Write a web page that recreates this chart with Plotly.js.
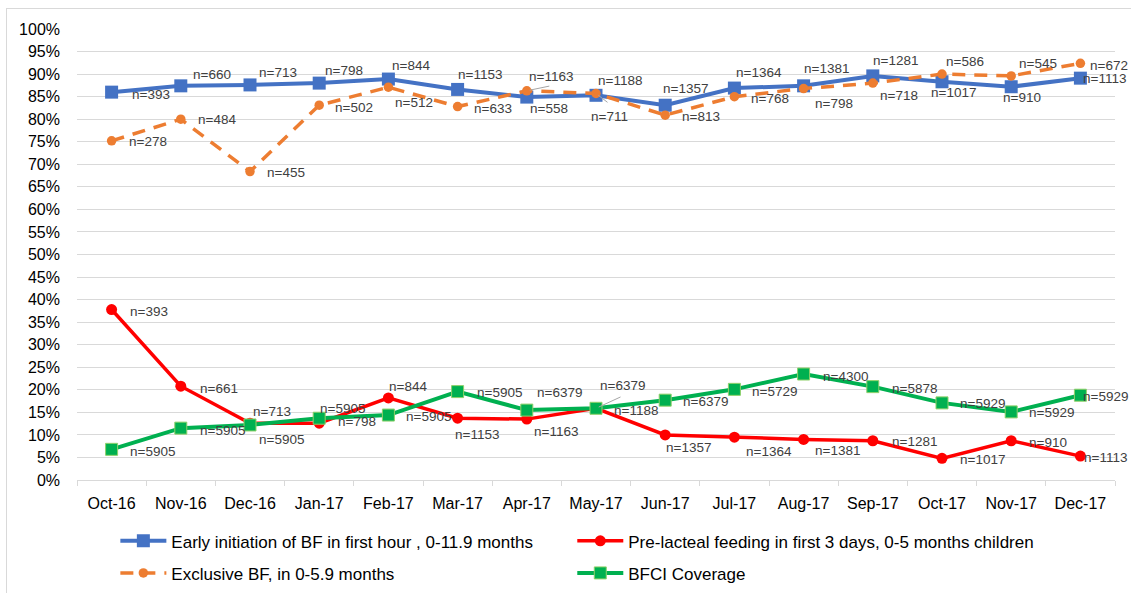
<!DOCTYPE html>
<html>
<head>
<meta charset="utf-8">
<script src="https://cdn.plot.ly/plotly-3.0.1.min.js"></script>
<style>
  html, body { margin: 0; padding: 0; background: #fff; }
  #wrap { position: relative; width: 1131px; height: 593px; }
  #chart { width: 1131px; height: 593px; }
  #frame { position: absolute; left: 6px; top: 8px; width: 1125px; height: 585px;
           border-left: 1px solid #d9d9d9; border-top: 1px solid #d9d9d9; pointer-events: none; }
</style>
</head>
<body>
<div id="wrap"><div id="chart"></div><div id="frame"></div></div>
<script>
// ---- data ----
const months = ["Oct-16","Nov-16","Dec-16","Jan-17","Feb-17","Mar-17","Apr-17","May-17","Jun-17","Jul-17","Aug-17","Sep-17","Oct-17","Nov-17","Dec-17"];

const earlyName = "Early initiation of BF in first hour , 0-11.9 months";
const earlyVals = [0.860,0.874,0.876,0.880,0.889,0.866,0.849,0.853,0.831,0.869,0.874,0.896,0.883,0.872,0.891];
const earlyN    = [393,660,713,798,844,1153,558,1188,1357,1364,1381,1281,1017,910,1113];

const preName = "Pre-lacteal feeding in first 3 days, 0-5 months children";
const preVals = [0.378,0.208,0.126,0.126,0.182,0.137,0.135,0.159,0.100,0.095,0.090,0.087,0.048,0.087,0.053];
const preN    = [393,661,713,798,844,1153,1163,1188,1357,1364,1381,1281,1017,910,1113];

const exclName = "Exclusive BF, in 0-5.9 months";
const exclVals = [0.752,0.800,0.684,0.831,0.871,0.828,0.863,0.857,0.809,0.850,0.868,0.880,0.900,0.896,0.924];
const exclN    = [278,484,455,502,512,633,1163,711,813,768,798,718,586,545,672];

const bfciName = "BFCI Coverage";
const bfciVals = [0.068,0.115,0.122,0.137,0.144,0.196,0.155,0.159,0.177,0.201,0.235,0.207,0.171,0.151,0.188];
const bfciN    = [5905,5905,5905,5905,5905,5905,6379,6379,6379,5729,4300,5878,5929,5929,5929];

// ---- label placement (pixel offsets from each point: [right, down]) ----
const earlyOff = [[19,2],[11,-11],[8,-12],[5,-13],[3,-14],[-1,-15],[2,11],[1,-15],[-3,-17],[1,-16],[-1,-17],[-1,-15],[-12,11],[-9,11],[2,0]];
const exclOff  = [[16,1],[16,0],[16,1],[15,2],[6,15],[15,2],[1,-14],[-6,23],[16,1],[16,2],[10,15],[6,12],[3,-13],[7,-12],[9,2]];
const preOff   = [[17,2],[18,2],[2,-12],[18,-2],[0,-11],[-4,16],[6,12],[17,2],[0,13],[11,14],[10,11],[18,1],[17,1],[17,2],[3,1]];
const bfciOff  = [[17,2],[18,2],[8,15],[0,-10],[17,1],[18,1],[9,-18],[3,-23],[17,1],[17,2],[18,2],[18,2],[17,1],[17,1],[2,1]];
// leader lines: [series values, index, dx, dy]
const leaders = [[exclVals,6,24,-5],[exclVals,7,13,10],[bfciVals,7,26,-12]];

const labelFont = {family: "Liberation Sans, Arial, sans-serif", size: 13.5, color: "#404040"};

const traces = [
  {x: months, y: earlyVals, name: earlyName, type: "scatter", mode: "lines+markers",
   line: {color: "#4472c4", width: 4}, marker: {symbol: "square", size: 13, color: "#4472c4"}, legend: "legend"},
  {x: months, y: preVals, name: preName, type: "scatter", mode: "lines+markers",
   line: {color: "#ff0000", width: 3.5}, marker: {symbol: "circle", size: 11, color: "#ff0000"}, legend: "legend2"},
  {x: months, y: exclVals, name: exclName, type: "scatter", mode: "lines+markers",
   line: {color: "#ed7d31", width: 3.5, dash: "13px,9px"}, marker: {symbol: "circle", size: 9.5, color: "#ed7d31"}, legend: "legend3"},
  {x: months, y: bfciVals, name: bfciName, type: "scatter", mode: "lines+markers",
   line: {color: "#00b050", width: 4}, marker: {symbol: "square", size: 12, color: "#00b050", line: {color: "#8fd16a", width: 1}}, legend: "legend4"}
];

const annotations = [];
function addLabels(vals, ns, offs) {
  vals.forEach((v, i) => {
    annotations.push({x: months[i], y: v, xref: "x", yref: "y", text: "n=" + ns[i],
      showarrow: false, xanchor: "left", yanchor: "middle",
      xshift: offs[i][0], yshift: -offs[i][1], font: labelFont, borderpad: 0});
  });
}
addLabels(earlyVals, earlyN, earlyOff);
addLabels(preVals, preN, preOff);
addLabels(exclVals, exclN, exclOff);
addLabels(bfciVals, bfciN, bfciOff);
leaders.forEach(([vals, i, ax, ay]) => {
  annotations.push({x: months[i], y: vals[i], xref: "x", yref: "y", text: " ",
    showarrow: true, arrowhead: 0, arrowwidth: 1, arrowcolor: "#a6a6a6",
    ax: ax, ay: ay, standoff: 3, font: {size: 1}});
});

const axisFont = {family: "Liberation Sans, Arial, sans-serif", size: 16, color: "#000"};
const legendFont = {family: "Liberation Sans, Arial, sans-serif", size: 17, color: "#000"};
function legendAt(x, y) {
  return {orientation: "h", xref: "container", yref: "container", x: x, y: y, xanchor: "left", yanchor: "top",
          itemwidth: 46, font: legendFont, bgcolor: "rgba(0,0,0,0)"};
}

const layout = {
  width: 1131, height: 593,
  margin: {l: 77, r: 16, t: 29, b: 113, pad: 0, autoexpand: false},
  paper_bgcolor: "#fff", plot_bgcolor: "#fff",
  font: axisFont,
  showlegend: true,
  xaxis: {type: "category", range: [-0.5, months.length - 0.5], tickson: "boundaries", ticks: "outside", ticklen: 5, tickcolor: "#d9d9d9",
          showline: true, linecolor: "#d9d9d9", linewidth: 1, showgrid: false, zeroline: false,
          ticklabelstandoff: 9, tickfont: axisFont, fixedrange: true, automargin: false},
  yaxis: {range: [0, 1], dtick: 0.05, tickformat: ".0%", showgrid: true, gridcolor: "#d9d9d9", gridwidth: 1,
          zeroline: false, showline: false, ticks: "", ticklabelstandoff: 16, tickfont: axisFont,
          fixedrange: true, automargin: false},
  legend:  legendAt(0.102, 0.1175),
  legend2: legendAt(0.506, 0.1175),
  legend3: legendAt(0.102, 0.0635),
  legend4: legendAt(0.506, 0.0635),
  annotations: annotations
};

Plotly.newPlot("chart", traces, layout, {displayModeBar: false, staticPlot: true});
</script>
</body>
</html>
